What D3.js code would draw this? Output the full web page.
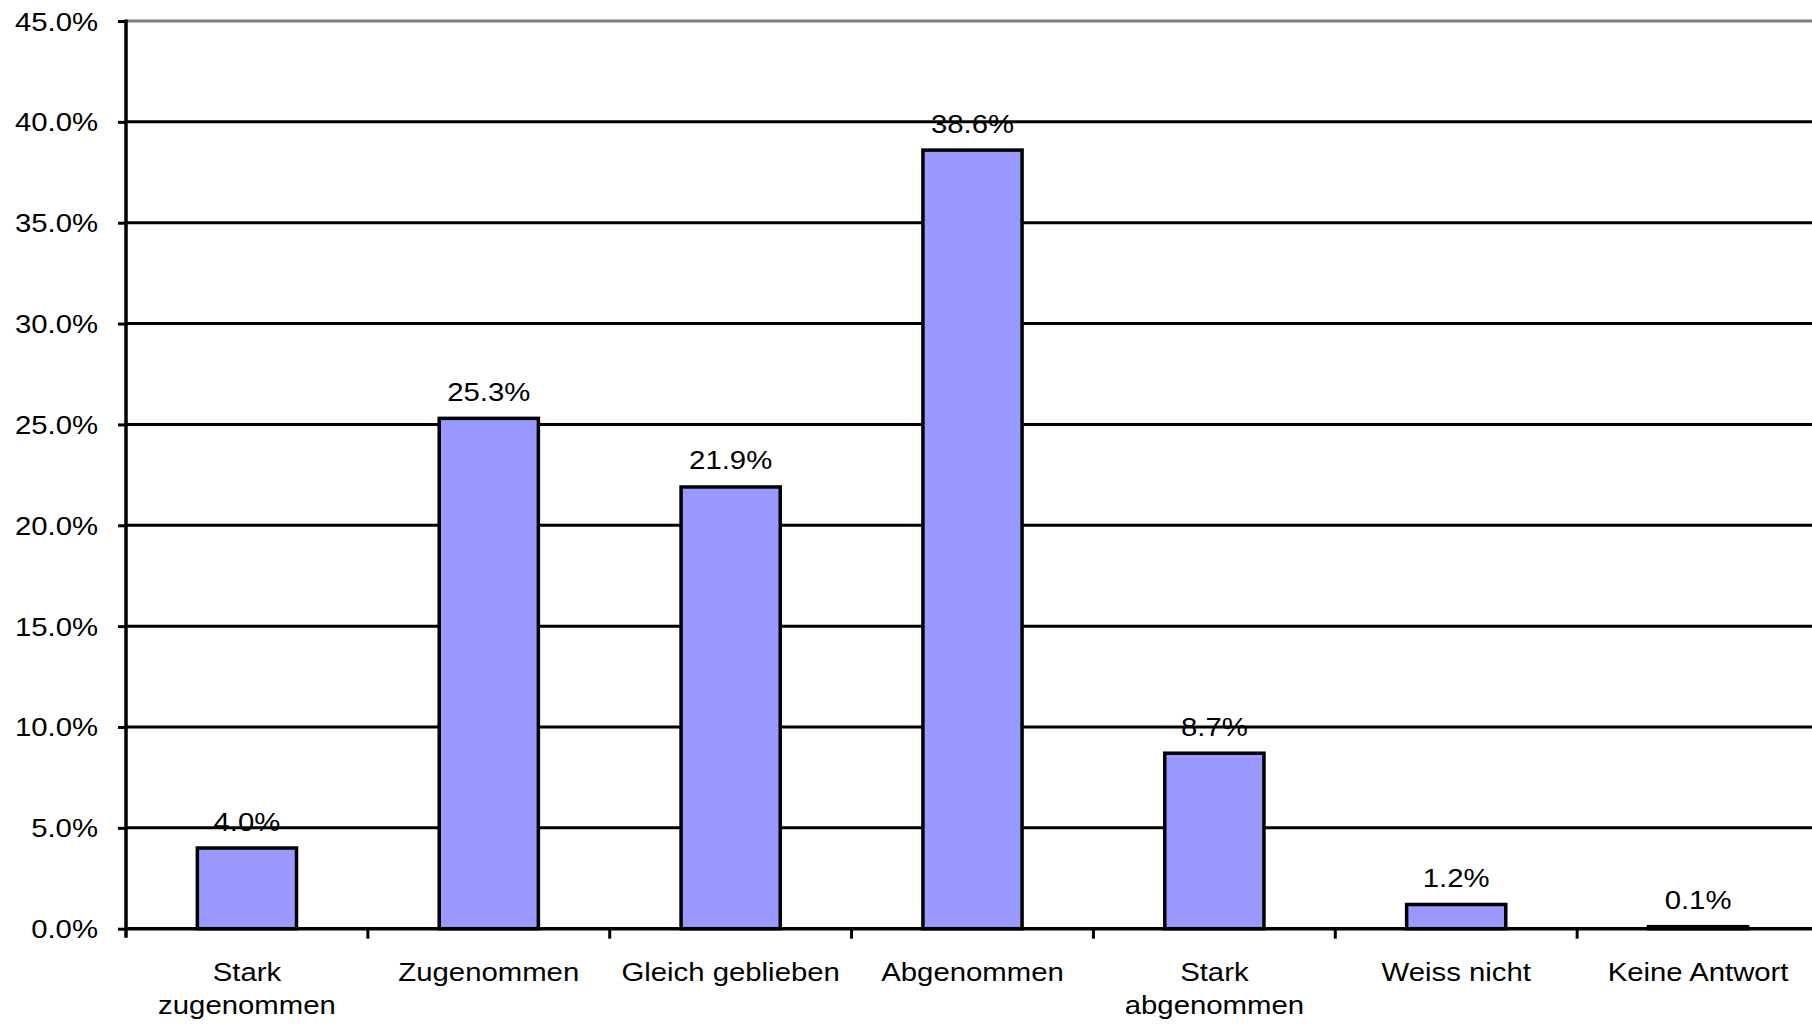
<!DOCTYPE html>
<html>
<head>
<meta charset="utf-8">
<script src="https://cdn.jsdelivr.net/npm/d3@7"></script>
<style>
  html, body { margin: 0; padding: 0; background: #fff; }
  svg { display: block; }
  text { font-family: "Liberation Sans", Arial, sans-serif; fill: #000; }
</style>
</head>
<body>
<svg id="chart" width="1812" height="1024"></svg>
<script>
// Survey answers and their shares
const categories = [
  ["Stark", "zugenommen"],
  ["Zugenommen"],
  ["Gleich geblieben"],
  ["Abgenommen"],
  ["Stark", "abgenommen"],
  ["Weiss nicht"],
  ["Keine Antwort"]
];
const values = [0.040, 0.253, 0.219, 0.386, 0.087, 0.012, 0.001];
const yTicks = [0, 0.05, 0.10, 0.15, 0.20, 0.25, 0.30, 0.35, 0.40, 0.45];

const svg = d3.select("#chart");
const W = 1812;
const plotLeft = 126, plotTop = 21, plotBottom = 928.7, plotRight = 1819;
const fontSize = 25.5, stretch = 1.15;

const keys = categories.map(c => c.join(" "));
const x = d3.scaleBand().domain(keys).range([plotLeft, plotRight]).padding(0);
const y = d3.scaleLinear().domain([0, 0.45]).range([plotBottom, plotTop]);
const fmt = d3.format(".1%");

// horizontal gridlines
svg.append("g").selectAll("line")
  .data(yTicks.filter(t => t > 0))
  .join("line")
  .attr("x1", plotLeft).attr("x2", W)
  .attr("y1", d => y(d)).attr("y2", d => y(d))
  .attr("stroke", d => d === 0.45 ? "#808080" : "#000")
  .attr("stroke-width", 3);

// y axis with outward ticks
const yAxis = d3.axisLeft(y).tickValues(yTicks).tickSize(8).tickPadding(0).tickFormat(fmt);
const gy = svg.append("g").attr("transform", `translate(${plotLeft},0)`).call(yAxis);
gy.select(".domain").remove();
gy.selectAll(".tick line").attr("stroke", "#000").attr("stroke-width", 3);
gy.selectAll(".tick text").remove();
gy.selectAll(".tick").append("text")
  .attr("transform", `translate(-28,9) scale(${stretch},1)`)
  .attr("text-anchor", "end")
  .style("font-size", fontSize + "px")
  .text(d => fmt(d));
svg.append("line")
  .attr("x1", plotLeft).attr("x2", plotLeft)
  .attr("y1", plotTop - 1.5).attr("y2", plotBottom + 9)
  .attr("stroke", "#000").attr("stroke-width", 3.5);

// bars
const barW = x.bandwidth() * 0.41;
svg.append("g").selectAll("rect")
  .data(values)
  .join("rect")
  .attr("x", (d, i) => x(keys[i]) + (x.bandwidth() - barW) / 2)
  .attr("y", d => y(d))
  .attr("width", barW)
  .attr("height", d => plotBottom - y(d))
  .attr("fill", "#9999FF")
  .attr("stroke", "#000")
  .attr("stroke-width", 3.5);

// x axis line and ticks between categories
svg.append("line")
  .attr("x1", plotLeft).attr("x2", W)
  .attr("y1", plotBottom).attr("y2", plotBottom)
  .attr("stroke", "#000").attr("stroke-width", 3.5);
svg.append("g").selectAll("line")
  .data(keys.slice(1).concat(["__end"]))
  .join("line")
  .attr("x1", d => d === "__end" ? plotRight : x(d))
  .attr("x2", d => d === "__end" ? plotRight : x(d))
  .attr("y1", plotBottom).attr("y2", plotBottom + 10)
  .attr("stroke", "#000").attr("stroke-width", 3);

// value labels
svg.append("g").selectAll("text")
  .data(values)
  .join("text")
  .attr("transform", (d, i) => `translate(${x(keys[i]) + x.bandwidth() / 2},${y(d) - 17.5}) scale(${stretch},1)`)
  .attr("text-anchor", "middle")
  .style("font-size", fontSize + "px")
  .text(d => fmt(d));

// category labels
const lab = svg.append("g").selectAll("text")
  .data(categories)
  .join("text")
  .attr("transform", (d, i) => `translate(${x(keys[i]) + x.bandwidth() / 2},981) scale(${stretch},1)`)
  .attr("text-anchor", "middle")
  .style("font-size", fontSize + "px");
lab.selectAll("tspan")
  .data(d => d)
  .join("tspan")
  .attr("x", 0)
  .attr("dy", (d, i) => i === 0 ? 0 : 33)
  .text(d => d);
</script>
</body>
</html>
